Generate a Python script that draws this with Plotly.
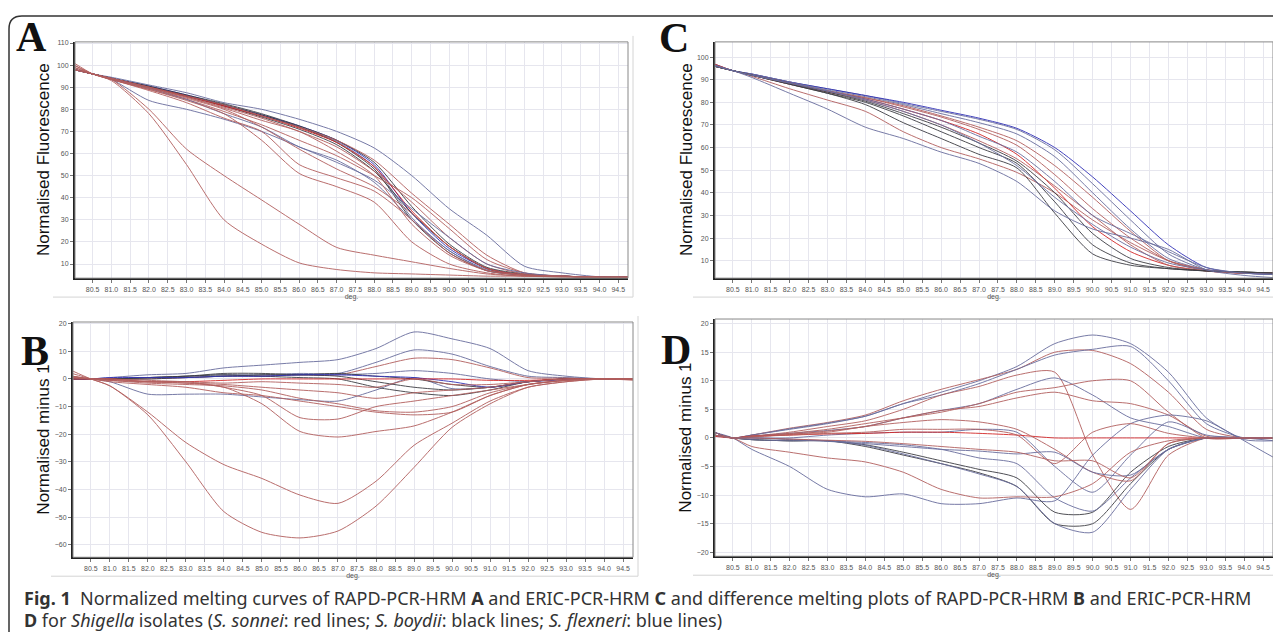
import plotly.graph_objects as go

# melting temperature grid (deg.) shared by all panels
temps = [80.0, 80.5, 81, 82, 83, 84, 85, 86, 87, 88, 89, 90, 91, 92, 93, 94, 94.8]

# Panel A - RAPD-PCR-HRM normalised fluorescence
a_species = ["flex", "flexb", "flex", "boyd", "boyd", "boyd", "sonb", "son", "son", "son",
             "flex", "flex", "son", "son", "son", "son", "son", "son"]
a_vals = [
    [98, 96, 94.5, 91, 87.5, 83, 80, 75.5, 70, 62.5, 50, 35, 23, 9, 6, 4.2, 4],
    [98, 96, 94, 90.5, 86.5, 82, 77.5, 72.5, 66, 55, 33, 17, 8, 5, 4.5, 4, 4],
    [98, 96, 94, 90, 86, 81.5, 77, 72, 65.5, 54, 31, 16, 7.5, 5, 4.5, 4, 4],
    [98, 96, 94, 90.5, 86.5, 82.5, 78, 72.5, 66, 56, 36, 19, 8.5, 5.5, 4.5, 4, 4],
    [98, 96, 94, 90, 86, 82, 77.5, 72, 65, 53, 30, 15, 7, 5, 4.5, 4, 4],
    [98, 96, 94, 90, 86, 81.5, 76.5, 71, 64, 52, 33, 18, 8, 5, 4.5, 4, 4],
    [98, 96, 94, 90, 86, 81.5, 77, 71.5, 65, 54, 34, 18, 8, 5, 4.5, 4, 4],
    [99, 96, 93.5, 89.5, 85.5, 81, 76, 70, 63, 52, 38, 22, 10, 5.5, 4.5, 4, 4],
    [100, 96, 93.5, 89, 84.5, 79, 73, 66, 59, 50, 40, 26, 12, 6, 4.5, 4, 4],
    [98, 96, 94, 90, 86, 82, 77, 72, 66, 57, 42, 28, 14, 6, 4.5, 4, 4],
    [98, 96, 93.5, 84, 80, 75.5, 70, 63, 56, 48, 35, 22, 10, 6, 4.5, 4, 4],
    [98, 96, 94, 89.5, 84.5, 78, 72, 63, 57, 47, 30, 16, 7, 5, 4.5, 4, 4],
    [98, 96, 93.5, 89, 84, 78, 66, 51, 45, 38, 20, 10, 6, 4.5, 4.2, 4, 4],
    [99, 96, 93.5, 88.5, 83, 76, 70, 55, 49, 43, 30, 15, 7, 5, 4.5, 4, 4],
    [98, 96, 94, 89.5, 85, 80, 72, 62, 53, 45, 33, 18, 8, 5, 4.5, 4, 4],
    [98, 96, 94, 90, 85.5, 80.5, 75, 70, 61, 50, 28, 14, 7, 5, 4.5, 4, 4],
    [100, 96, 93.5, 80, 62, 50, 39, 28, 17.5, 14, 11, 8, 5.5, 4.5, 4.2, 4, 4],
    [101, 96, 93, 78, 55, 30, 19, 10.5, 7.5, 6, 5.5, 5, 4.5, 4.5, 4.2, 4, 4],
]

# Panel C - ERIC-PCR-HRM normalised fluorescence
c_species = ["flex", "flexb", "flex", "sonb", "son", "son", "son", "son",
             "boyd", "boyd", "boyd", "flex", "flex", "flex"]
c_vals = [
    [97, 94, 92.5, 89, 86, 83, 79.5, 76, 72.5, 68, 59, 44, 28, 13, 6, 4.5, 4],
    [96.5, 94, 92.5, 89, 86, 83, 80, 76.5, 73, 68.5, 60, 47, 32, 17, 7, 4.5, 4],
    [97, 94, 92.5, 89, 85.5, 82.5, 79, 75, 71, 66, 56, 40, 24, 11, 6, 4.5, 4],
    [97, 94, 92, 88.5, 85, 81.5, 77, 72, 66, 57, 42, 25, 14, 8, 5.5, 4.5, 4.5],
    [96, 94, 92, 88.5, 85, 82, 78, 73.5, 68, 61, 48, 33, 20, 10, 6, 4.5, 4.5],
    [96.5, 94, 92, 88.5, 85, 82, 78.5, 74, 69, 63, 52, 38, 23, 10, 5.5, 4.5, 4.5],
    [96, 94, 92, 88, 84.5, 81, 76, 70, 63, 55, 43, 30, 17, 8, 5.5, 4.5, 4.5],
    [96, 94, 91.5, 86, 81, 76, 67, 60, 55, 49, 40, 28, 18, 10, 6, 4.5, 4.5],
    [96, 94, 92, 88, 84, 79, 71, 64, 57, 51, 31, 13, 8, 6.5, 5.5, 5, 4.5],
    [96, 94, 92, 88, 84, 80, 74, 67, 60, 53, 36, 17, 9, 6.5, 5.5, 5, 4.5],
    [96, 94, 92, 88.5, 84.5, 80.5, 75, 69, 62, 54, 40, 22, 11, 7, 5.5, 5, 4.5],
    [96, 94, 91, 84, 77, 69, 64, 58, 53, 45, 32, 24, 20, 15, 6, 3.5, 2.5],
    [96.5, 94, 92, 88.5, 85, 81.5, 77, 72, 65, 58, 45, 30, 22, 14, 7, 4.5, 4],
    [96.5, 94, 92, 88.5, 85, 81, 76, 70, 62, 52, 38, 26, 16, 9, 6, 4.5, 4],
]

# Panel B - RAPD-PCR-HRM difference plot
b_species = ["flex", "flex", "son", "flex", "flex", "boyd", "boyd", "boyd", "flexb", "sonb",
             "son", "son", "son", "son", "son", "son", "son", "son"]
b_vals = [
    [0, 0, 0.5, 1.5, 2, 4, 5, 6, 7, 11, 17, 14.5, 11, 3, 1, 0, 0],
    [0, 0, 0, 0.5, 1, 1.5, 1.5, 2, 2, 6, 10.5, 9, 4.5, 1, 0.5, 0, 0],
    [0.5, 0, 0, 0, 0.5, 1, 1, 1.5, 1.5, 4.5, 7.5, 7, 4, 0.5, 0.3, 0, 0],
    [0, 0, 0, 0.5, 0.5, 1, 1, 1.5, 1.5, 2, 3, 2, 0, -1, 0, 0, 0],
    [0, 0, -1, -5.5, -5.5, -5.5, -6.5, -7.5, -8, -4, 0.5, -3.5, -3, -1, 0, 0, 0],
    [0, 0, 0, 0.5, 1, 2, 2, 1.5, 1, -1, -3, -4, -3, -1, 0, 0, 0],
    [0, 0, 0, 0.5, 1, 1.5, 1, 0.5, 0, -3, -5, -6, -4, -1, 0, 0, 0],
    [0, 0, 0, 0, 0.5, 1, 1.5, 1.5, 2, 1, 0, -2, -3, -1, 0, 0, 0],
    [0, 0, 0.5, 0.5, 0.5, 1, 1, 1.5, 1.5, 1, 0.5, -1, -3, -1, -0.3, 0, 0],
    [0, 0, 0, -1, -1, -0.5, 0, 0, 0, 0, 0, 0, -0.5, -0.5, 0, 0, 0],
    [1, 0, -0.5, -1.5, -2, -2.5, -4, -7, -9, -11.5, -12, -10, -5, -2, -0.5, 0, 0],
    [1, 0, -1, -2, -3, -5, -6, -8, -10, -12, -13, -12, -6, -2, -0.5, 0, 0],
    [1, 0, -0.5, -1, -1, -3, -6, -14, -14.5, -10, -8, -6, -4, -2, -0.5, 0, 0],
    [0.5, 0, -0.5, -1, -1.5, -3, -9, -19, -21, -19, -17, -12, -6, -2, -0.5, 0, 0],
    [2, 0, -2.5, -12, -23, -31, -36, -42, -45, -37, -24, -16, -8, -3, -1, 0, 0],
    [3, 0, -2.5, -13, -30, -48, -55.5, -57.5, -55, -46, -32, -17.5, -9, -3, -1, 0, -0.5],
    [0, 0, 0, -1, -1.5, -2, -3, -4, -5, -7, -5, -4, -3, -1, 0, 0, 0],
    [0.5, 0, 0, -0.5, -1, -1.5, -1, -1.5, -2, -3, 0, -2, -2, -1, 0, 0, 0],
]

# Panel D - ERIC-PCR-HRM difference plot
d_species = ["flex", "son", "flex", "son", "flex", "son", "son", "flex", "boyd", "boyd",
             "flex", "flex", "flex", "son", "sonb", "son", "son", "flex", "son"]
d_vals = [
    [1, 0, 0.5, 1.5, 2.5, 3.8, 6, 8, 10, 12.5, 16.5, 18, 16.5, 11.5, 3.5, -0.5, -3.5],
    [1, 0, 0.5, 1.7, 2.7, 4, 6.5, 8.5, 10.2, 12, 15, 15.3, 13, 8, 1.5, 0, 0],
    [1, 0, 0.5, 1.6, 2.6, 3.8, 6, 7.5, 9.5, 12, 14.5, 15.5, 16, 10, 2.5, 0, 0],
    [1, 0, 0.3, 1, 2, 3, 5, 7.5, 9, 11, 11.5, -3, -12.5, -3, 0, 0, 0],
    [1, 0, 0.3, 0.8, 1.3, 2, 3.5, 4.8, 6, 8.5, 10.5, 7.5, 3.5, 2, 0, 0, 0],
    [1, 0, 0.3, 0.8, 1.5, 2.5, 3.5, 4.5, 6, 8, 8.8, 10, 10, 4.5, 0, 0, 0],
    [1, 0, 0.2, 0.6, 1.2, 2, 3.5, 4.8, 5.5, 7, 8, 6.5, 6, 4, 0.3, 0, 0],
    [1, 0, -2, -5, -9, -10.3, -9.8, -11.5, -11.5, -10.5, -11, -3, 2.5, 4, 3, -0.3, -0.5],
    [0.5, 0, -0.3, -0.5, -0.5, -1.5, -3, -4.5, -6.1, -8.5, -15, -15, -8, -2, 0, 0, 0],
    [0.5, 0, -0.3, -0.5, -0.5, -1.2, -2.5, -4, -5.5, -7, -13, -13, -6, -1.5, 0, 0, 0],
    [0.5, 0, -0.3, -0.5, -0.5, -1.3, -2.8, -4.5, -6.3, -8.5, -15, -16.5, -9, -2, 0, 0, 0],
    [0.5, 0, 0, -0.2, -0.5, -0.8, -1.2, -2, -3.5, -4.5, -10.5, -12.8, -7, -2, 0, 0, 0],
    [0.5, 0, 0, 0, 0.5, 0.8, 1, 1, 1.5, 1, -5, -9.5, -3, 2.8, 0.5, 0, -0.5],
    [0.5, 0, -1.5, -2.5, -3.5, -4.2, -6, -9, -10.5, -10.3, -10.3, -8, -2.5, -0.5, 0, 0, 0],
    [0.3, 0, 0.3, 0.5, 0.7, 0.8, 1, 1, 0.8, 0.5, 0, 0, 0, 0, 0, 0, 0],
    [0.5, 0, 0.3, 0.7, 1, 2, 2.7, 3.2, 2.8, 1.5, -2, -6, -7.5, -1, 0, 0, 0],
    [0.5, 0, 0.2, 0.5, 0.8, 1, 1.5, 1.5, 1.5, 0.5, -4.5, 1, 2.5, 0.8, 0, 0, 0],
    [0.5, 0, 0, -0.3, -0.6, -1, -1.5, -2, -2.3, -2.8, -2.5, -6, -6.5, -2, 0, 0, 0],
    [0.5, 0, 0, -0.2, -0.4, -0.6, -1, -1.5, -2, -2.5, -4, -4, -7, -1, 0, 0, 0],
]

x_ticks = [80.5 + 0.5 * i for i in range(29)]

colors = {"son": "#b3605f", "sonb": "#d42828", "boyd": "#3f3f45",
          "flex": "#6a6e9e", "flexb": "#3434b8"}

W, H = 1281, 632
OFF = 8  # the page body margin shifts the figure by this much

def px_x(v):
    return (v - OFF) / W

def px_y(v):
    return 1 - (v - OFF) / H

# panel: axis suffix, data, species, plot box in page pixels (left, top, right, bottom), y range, y ticks, title
panels = [
    ("", a_vals, a_species, (75, 40, 628, 277), [3.6, 110.5], list(range(10, 111, 10)), "Normalised Fluorescence", 43),
    ("2", c_vals, c_species, (715, 40, 1273, 277), [2.3, 106.7], list(range(10, 101, 10)), "Normalised Fluorescence", 686),
    ("3", b_vals, b_species, (73, 321, 633, 557), [-64.5, 20.6], list(range(-60, 21, 10)), "Normalised minus 1", 44),
    ("4", d_vals, d_species, (715, 318, 1273, 556), [-20.7, 20.8], list(range(-20, 21, 5)), "Normalised minus 1", 686),
]
letters = ["A", "C", "B", "D"]
letter_pos = [(31, 35), (674, 36), (35, 350), (676, 349)]

fig = go.Figure()
shapes = []
annotations = []

for (k, vals, species, box, yr, yt, title, tx), letter, lp in zip(panels, letters, letter_pos):
    for i, v in enumerate(vals):
        sp = species[i]
        fig.add_trace(go.Scatter(x=temps, y=v, mode="lines", xaxis="x" + k, yaxis="y" + k,
                                 line=dict(color=colors[sp], width=1, shape="spline", smoothing=0.7),
                                 opacity=0.9, showlegend=False, hoverinfo="skip"))
    l, t, r, b = box
    fig.layout["xaxis" + k] = dict(domain=[px_x(l), px_x(r)], anchor="y" + k, range=[80.03, 94.76],
                                   tickvals=x_ticks, ticktext=["%.1f" % v for v in x_ticks],
                                   tickfont=dict(size=7, color="#555", family="Arial"),
                                   ticks="outside", ticklen=3, tickcolor="#777",
                                   showgrid=True, gridcolor="#e6e6ee", gridwidth=1,
                                   showline=True, linecolor="#222", linewidth=2, zeroline=False,
                                   title=dict(text="deg.", font=dict(size=7, color="#555", family="Arial"), standoff=1))
    fig.layout["yaxis" + k] = dict(domain=[px_y(b), px_y(t)], anchor="x" + k, range=yr,
                                   tickvals=yt, tickfont=dict(size=7, color="#555", family="Arial"),
                                   ticks="outside", ticklen=3, tickcolor="#777",
                                   showgrid=True, gridcolor="#e6e6ee", gridwidth=1,
                                   showline=True, linecolor="#222", linewidth=2, zeroline=False)
    # grey frame of the plot area
    shapes.append(dict(type="rect", xref="x%s domain" % k, yref="y%s domain" % k,
                       x0=0, x1=1, y0=0, y1=1, line=dict(color="#888", width=1), layer="above"))
    # software window edges under the x labels and to the right
    shapes.append(dict(type="line", xref="paper", yref="paper", x0=px_x(l - 22), x1=px_x(r + 5),
                       y0=px_y(b + 19), y1=px_y(b + 19), line=dict(color="#d4d4d4", width=1)))
    shapes.append(dict(type="line", xref="paper", yref="paper", x0=px_x(r + 5), x1=px_x(r + 5),
                       y0=px_y(t - 6), y1=px_y(b + 19), line=dict(color="#d4d4d4", width=1)))
    annotations.append(dict(text=title, xref="paper", yref="paper", x=px_x(tx), y=px_y((t + b) / 2),
                            xanchor="center", yanchor="middle", textangle=-90, showarrow=False,
                            font=dict(size=17, color="#111", family="Arial")))
    annotations.append(dict(text="<b>%s</b>" % letter, xref="paper", yref="paper", x=px_x(lp[0]), y=px_y(lp[1]),
                            xanchor="center", yanchor="middle", showarrow=False,
                            font=dict(size=42, color="#111", family="Liberation Serif")))

# rounded outer border of the figure box
shapes.append(dict(type="path", xref="paper", yref="paper", layer="below",
                   path="M %f,%f L %f,%f Q %f,%f %f,%f L %f,%f" % (
                       px_x(9), px_y(650), px_x(9), px_y(27), px_x(9), px_y(14), px_x(22), px_y(14),
                       px_x(1300), px_y(14)),
                   line=dict(color="#333", width=1.5)))

caption1 = ("<b>Fig. 1</b>  Normalized melting curves of RAPD-PCR-HRM <b>A</b> and ERIC-PCR-HRM <b>C</b> "
            "and difference melting plots of RAPD-PCR-HRM <b>B</b> and ERIC-PCR-HRM")
caption2 = ("<b>D</b> for <i>Shigella</i> isolates (<i>S. sonnei</i>: red lines; <i>S. boydii</i>: "
            "black lines; <i>S. flexneri</i>: blue lines)")
annotations.append(dict(text=caption1, xref="paper", yref="paper", x=px_x(22), y=px_y(598),
                        xanchor="left", yanchor="middle", showarrow=False,
                        font=dict(size=18, color="#333", family="Noto Sans")))
annotations.append(dict(text=caption2, xref="paper", yref="paper", x=px_x(22), y=px_y(620),
                        xanchor="left", yanchor="middle", showarrow=False,
                        font=dict(size=18, color="#333", family="Noto Sans")))

fig.update_layout(width=W, height=H, margin=dict(l=0, r=0, t=0, b=0),
                  paper_bgcolor="white", plot_bgcolor="white",
                  shapes=shapes, annotations=annotations)

fig.write_html("out.html")
